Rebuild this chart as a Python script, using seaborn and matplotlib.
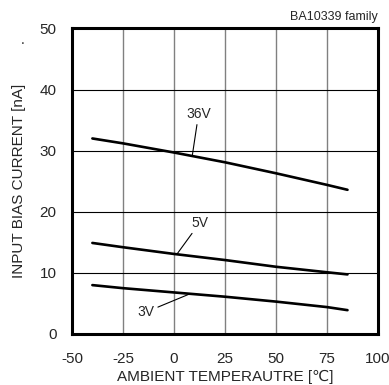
import numpy as np
import pandas as pd
import seaborn as sns
import matplotlib
matplotlib.use("Agg")
import matplotlib.pyplot as plt

temps = [-40, -25, 0, 25, 50, 75, 85]
i_36v = [32.0, 31.2, 29.7, 28.1, 26.3, 24.4, 23.6]
i_5v = [14.9, 14.2, 13.1, 12.1, 11.0, 10.1, 9.75]
i_3v = [8.0, 7.5, 6.8, 6.1, 5.3, 4.4, 3.9]
series_names = ["36V", "5V", "3V"]
x_ticks = [-50, -25, 0, 25, 50, 75, 100]
y_ticks = [0, 10, 20, 30, 40, 50]

df = pd.DataFrame({
    "temp": temps * 3,
    "current": i_36v + i_5v + i_3v,
    "series": sum([[s] * len(temps) for s in series_names], []),
})

sns.set_style("white")
plt.rcParams["font.family"] = ["Liberation Sans", "DejaVu Sans"]
plt.rcParams["axes.unicode_minus"] = False

fig = plt.figure(figsize=(3.89, 3.85), dpi=100)
ax = fig.add_axes([0.185, 0.1325, 0.787, 0.7935])

for xv in x_ticks[1:-1]:
    ax.axvline(xv, color="#808080", lw=1.0, zorder=1)
for yv in y_ticks[1:-1]:
    ax.axhline(yv, color="black", lw=0.8, zorder=1)

sns.lineplot(data=df, x="temp", y="current", units="series", estimator=None,
             color="black", lw=1.9, ax=ax, zorder=3)

ax.set_xlim(-50, 100)
ax.set_ylim(0, 50)
ax.set_xticks(x_ticks)
ax.set_yticks(y_ticks)
ax.tick_params(axis="both", direction="in", length=4, width=1.5, labelsize=11, color="black")
ax.tick_params(axis="x", pad=13)
ax.tick_params(axis="y", pad=11)
for s in ax.spines.values():
    s.set_linewidth(2.2)
    s.set_color("black")

ax.set_xlabel("AMBIENT TEMPERAUTRE [℃]", fontsize=11, labelpad=3)
ax.set_ylabel("INPUT BIAS CURRENT [nA]", fontsize=11, labelpad=10)

# annotations
ax.annotate("36V", xy=(9, 29.3), xytext=(12, 34.8), fontsize=10,
            ha="center", va="bottom",
            arrowprops=dict(arrowstyle="-", lw=0.8, color="black", shrinkA=0, shrinkB=0))
ax.annotate("5V", xy=(1.5, 13.1), xytext=(12.5, 17.0), fontsize=10,
            ha="center", va="bottom",
            arrowprops=dict(arrowstyle="-", lw=0.8, color="black", shrinkA=0, shrinkB=0))
ax.annotate("3V", xy=(8, 6.6), xytext=(-9.5, 3.6), fontsize=10,
            ha="right", va="center",
            arrowprops=dict(arrowstyle="-", lw=0.8, color="black", shrinkA=0, shrinkB=0))

fig.text(378 / 389, 1 - 17 / 385, "BA10339 family", fontsize=9, ha="right", va="center")
fig.text(23 / 389, 1 - 40 / 385, ".", fontsize=10, ha="center", va="center")

fig.savefig("out.png", dpi=100)
